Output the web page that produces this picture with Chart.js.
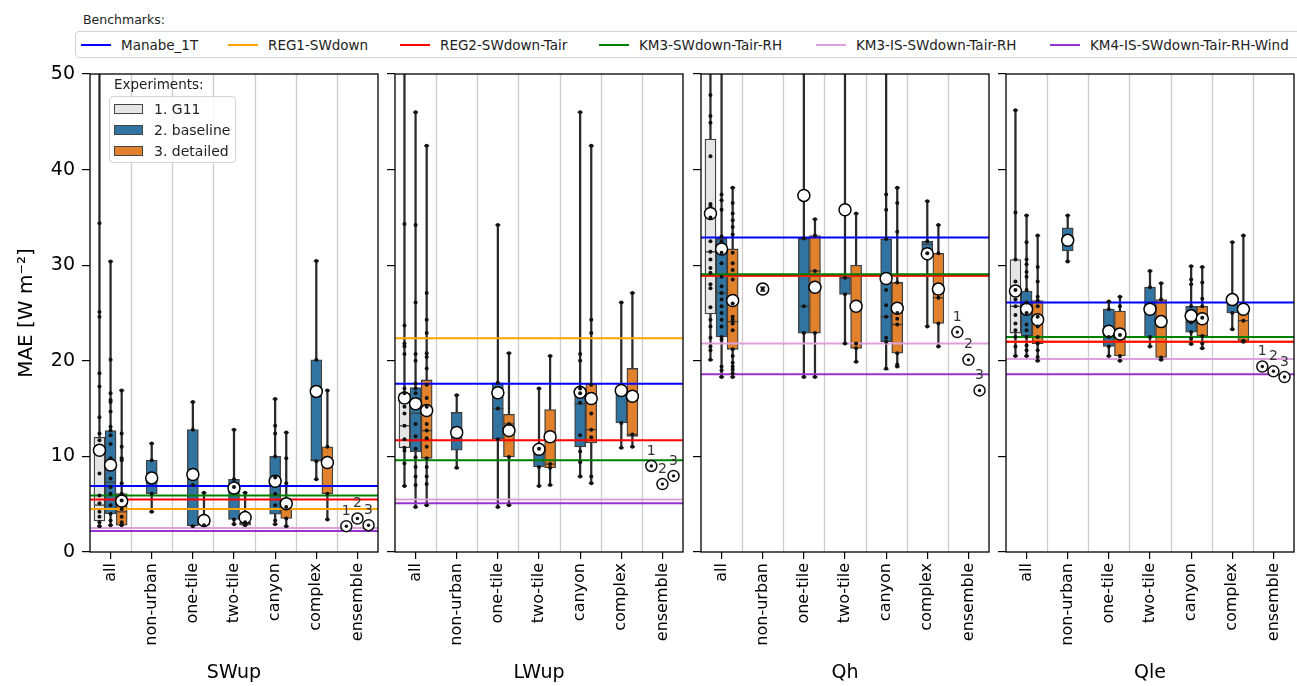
<!DOCTYPE html>
<html><head><meta charset="utf-8">
<script src="https://cdn.jsdelivr.net/npm/chart.js@4.4.1/dist/chart.umd.min.js"></script>
<style>
body{margin:0;background:#fff;width:1297px;height:686px;overflow:hidden;position:relative;font-family:"DejaVu Sans",sans-serif;color:#222}
canvas{position:absolute;top:60px}
#bt{position:absolute;left:83px;top:12px;font-size:12.5px}
#blg{position:absolute;left:75px;top:31px;width:1250px;height:25px;border:1.5px solid #d3d3d3;border-radius:4px;background:#fff}
.bi{position:absolute;top:0;height:25px;display:flex;align-items:center;font-size:13.5px;white-space:nowrap}
.bi i{display:inline-block;width:30px;height:2px;margin-right:10px}
#et{position:absolute;left:114px;top:76px;font-size:13.5px}
#elg{position:absolute;left:109px;top:96px;width:125px;height:65px;border:1.5px solid #d3d3d3;border-radius:4px;background:rgba(255,255,255,0.85)}
.ei{position:absolute;left:4px;height:20px;display:flex;align-items:center;font-size:14px;white-space:nowrap}
.ei i{display:inline-block;width:27px;height:8px;border:1px solid #444;margin-right:11px}
</style></head><body>
<div id="bt">Benchmarks:</div>
<div id="blg"></div>
<canvas id="c0" width="380" height="626" style="left:0px"></canvas>
<canvas id="c1" width="300" height="626" style="left:385px"></canvas>
<canvas id="c2" width="300" height="626" style="left:691px"></canvas>
<canvas id="c3" width="300" height="626" style="left:996px"></canvas>
<div id="et">Experiments:</div>
<div id="elg"></div>
<script>
// ---------- data ----------
const categories = ['all','non-urban','one-tile','two-tile','canyon','complex','ensemble'];
const variables = ['SWup','LWup','Qh','Qle'];
const experiments = ['1. G11','2. baseline','3. detailed'];
const benchmarkNames = ['Manabe_1T','REG1-SWdown','REG2-SWdown-Tair','KM3-SWdown-Tair-RH','KM3-IS-SWdown-Tair-RH','KM4-IS-SWdown-Tair-RH-Wind'];
const yTicks = [0,10,20,30,40,50];

// box stats per category: [min, q1, median, q3, max, mean]
const SWup_bench = [6.9, 4.5, 5.5, 5.9, 2.5, 2.2];
const SWup_G11  = [[2.7,3.25,4.9,12.0,58,10.65],null,null,null,null,null,null];
const SWup_base = [[2.8,4.0,7.3,12.7,30.4,9.1],[4.2,6.1,7.7,9.6,11.35,7.75],[2.7,2.75,7.0,12.8,15.7,8.1],[2.9,3.4,6.8,7.6,12.8,6.7],[2.9,3.95,6.0,10.0,16.0,7.4],[7.6,9.5,9.6,20.1,30.45,16.8],null];
const SWup_det  = [[2.8,2.8,4.2,6.1,16.9,5.34],null,[2.7,2.8,3.0,3.2,6.2,3.3],[2.8,2.8,3.0,3.1,6.2,3.6],[2.7,3.5,4.5,4.6,12.5,5.06],[3.4,6.1,9.4,11.0,16.9,9.36],null];
const SWup_G11_pts  = [[34.4,25.1,24.6,18.7,17.3,14.1,12.4,11.7,8.2,5.9,5.1,4.2,3.7,3.1,2.7],[],[],[],[],[],[]];
const SWup_base_pts = [[30.4,20.1,16.6,15.9,15.7,14.7,13.1,12.7,12.2,11.3,9.8,7.7,6.8,6.1,4.9,4.0,3.3,2.8],[11.35,9.6,6.1,4.2],[15.7,12.8,7.0,2.7],[12.8,7.6,6.8,3.4,2.9],[16.0,13.2,12.4,10.0,7.8,6.1,4.9,3.3,2.9],[30.45,20.1,9.5,7.6],[]];
const SWup_det_pts  = [[16.9,12.4,11.0,9.8,9.6,7.2,6.1,5.4,4.5,3.7,3.1,2.8],[],[6.2,2.8],[6.2,3.1,2.8],[12.5,9.8,7.2,4.7,3.5,2.7],[16.9,11.0,6.1,3.4],[]];
const SWup_ens = [2.7, 3.5, 2.8];

const LWup_bench = [17.6, 22.35, 11.7, 9.6, 5.5, 5.1];
const LWup_G11  = [[6.9,10.9,13.2,16.6,58,16.1],null,null,null,null,null,null];
const LWup_base = [[4.7,10.5,14.5,17.2,46.0,15.5],[8.8,10.65,12.5,14.6,16.4,12.5],[4.7,11.8,15.0,17.7,34.2,16.65],[6.9,8.9,10.2,10.8,17.1,10.75],[7.9,11.0,15.5,17.1,46.0,16.7],[10.9,13.5,17.0,17.2,26.1,16.9],null];
const LWup_det  = [[4.9,9.8,12.7,18.0,42.5,14.8],null,[4.9,9.95,13.4,14.4,20.8,12.7],[7.0,8.8,9.2,14.9,20.5,12.05],[7.2,11.4,12.8,17.6,42.5,16.06],[11.0,12.1,12.3,19.2,27.1,16.3],null];
const LWup_G11_pts  = [[34.3,23.7,21.8,21.5,20.7,17.1,16.6,15.2,14.5,13.2,11.8,10.9,10.6,9.25,6.9],[],[],[],[],[],[]];
const LWup_base_pts = [[46.0,34.2,26.1,20.7,20.0,17.6,17.1,16.6,13.4,12.1,10.8,9.9,8.9,7.9,7.0,4.7],[16.4,8.8],[34.2,17.7,15.0,11.8,4.7],[17.1,10.8,8.9,6.9],[46.0,20.7,20.0,17.1,16.6,15.6,12.2,10.5,9.4,7.9],[26.1,13.5,10.9],[]];
const LWup_det_pts  = [[42.5,27.1,24.3,22.9,20.8,20.4,19.2,17.5,16.1,15.2,13.4,12.7,11.9,11.0,9.8,8.9,7.9,7.1,4.9],[],[20.8,13.4,9.95,4.9],[20.5,9.2,8.8,7.0],[42.5,24.3,22.9,17.5,14.5,12.8,12.0,7.9,7.2],[27.1,12.3,11.0],[]];
const LWup_ens = [9.0, 7.1, 7.96];

const Qh_bench = [32.9, 28.9, 28.9, 29.05, 21.8, 18.6];
const Qh_G11  = [[20.1,24.9,31.4,43.2,58,35.4],null,null,null,null,null,null];
const Qh_base = [[18.3,22.5,27.1,32.8,58,31.7],[27.3,27.4,27.5,27.6,27.7,27.5],[18.3,22.9,25.7,32.8,58,37.3],[21.8,26.95,28.7,28.7,58,35.8],[19.1,22.0,24.6,32.75,58,28.6],[23.6,31.25,32.2,32.5,36.7,31.2],null];
const Qh_det  = [[18.3,21.2,24.1,31.7,38.1,26.3],null,[18.3,22.9,29.4,33.1,34.8,27.7],[19.9,21.3,21.8,30.0,35.4,25.7],[19.4,20.8,23.8,28.2,38.1,25.5],[21.5,23.9,26.6,31.25,34.2,27.5],null];
const Qh_G11_pts  = [[47.8,45.6,44.9,41.4,36.4,36.2,35.0,32.5,31.4,30.6,29.7,29.2,28.0,27.6,25.6,24.3,23.6,22.4,21.5,21.1,20.1],[],[],[],[],[],[]];
const Qh_base_pts = [[37.4,36.8,35.8,33.0,32.5,31.3,30.2,28.8,27.8,27.1,26.4,25.7,25.0,24.3,23.6,22.5,22.2,19.4,19.0,18.3],[27.5],[32.8,25.7,22.9,18.3],[28.7,26.95,21.8],[37.4,35.8,32.75,27.4,25.8,24.6,22.4,22.0,19.2],[36.7,32.5,31.25,23.6],[]];
const Qh_det_pts  = [[38.1,36.5,35.4,34.7,34.0,33.2,31.3,30.2,29.5,28.5,26.0,24.6,24.3,23.9,23.2,21.2,20.5,19.8,19.4,19.1,18.7,18.3],[],[34.8,33.1,29.4,22.9,18.3],[35.4,21.8,21.3,19.9],[38.1,36.5,33.5,28.2,25.0,24.4,23.8,20.8,19.6,19.4],[34.2,31.25,26.6,23.9,21.5],[]];
const Qh_ens = [23.0, 20.1, 16.9];

const Qle_bench = [26.1, 22.0, 22.0, 22.5, 20.2, 18.6];
const Qle_G11  = [[20.5,22.9,25.7,30.6,46.2,27.3],null,null,null,null,null,null];
const Qle_base = [[20.5,22.6,25.5,27.3,35.2,25.4],[30.4,31.5,32.6,33.9,35.2,32.6],[20.5,21.5,22.5,25.4,26.2,23.1],[21.5,22.5,25.2,27.7,29.4,25.4],[21.75,23.0,24.0,25.7,29.9,24.7],[23.3,25.0,26.0,26.3,32.4,26.4],null];
const Qle_det  = [[20.0,21.8,24.0,26.3,33.1,24.3],null,[20.0,20.5,22.7,25.2,26.7,22.8],[20.1,20.35,24.3,26.4,28.1,24.1],[21.3,22.6,24.5,25.7,29.8,24.4],[22.0,22.1,24.2,25.8,33.1,25.4],null];
const Qle_G11_pts  = [[46.2,35.5,30.6,28.3,27.4,26.4,25.7,24.8,23.9,23.2,22.5,21.5,20.5],[],[],[],[],[],[]];
const Qle_base_pts = [[35.2,32.4,30.6,30.1,29.3,28.8,27.4,26.1,25.0,23.8,23.2,22.5,21.6,21.1,20.5],[35.2,30.4],[26.2,25.4,22.5,21.5,20.5],[29.4,27.7,22.5,21.5],[29.9,28.5,28.0,25.7,24.0,23.0,22.3,21.75],[32.4,25.0,23.3],[]];
const Qle_det_pts  = [[33.1,29.8,28.3,26.7,26.3,25.7,24.6,23.6,22.5,21.8,21.1,20.4,20.0],[],[26.7,25.7,22.7,20.5,20.0],[28.1,26.4,20.35,20.1],[29.8,28.2,26.5,25.7,24.5,22.6,21.8,21.3],[33.1,24.2,22.1,22.0],[]];
const Qle_ens = [19.4, 18.9, 18.3];

// ---------- styling ----------
const benchColors = ['#0000ff','#ffa500','#ff0000','#008000','#dda0dd','#9932cc'];
const expColors = ['#e5e5e5','#3274a1','#e1812c'];
const HUE = [-0.27, 0, 0.27];
const X_MIN = -0.5, X_MAX = categories.length - 0.5;
const EDGE = '#3f3f3f';
const FONT = 'DejaVu Sans';
Chart.defaults.font.family = FONT;
Chart.defaults.color = '#000';

const panels = [
  {stats:[SWup_G11,SWup_base,SWup_det], pts:[SWup_G11_pts,SWup_base_pts,SWup_det_pts], ens:SWup_ens, bench:SWup_bench},
  {stats:[LWup_G11,LWup_base,LWup_det], pts:[LWup_G11_pts,LWup_base_pts,LWup_det_pts], ens:LWup_ens, bench:LWup_bench},
  {stats:[Qh_G11,Qh_base,Qh_det], pts:[Qh_G11_pts,Qh_base_pts,Qh_det_pts], ens:Qh_ens, bench:Qh_bench},
  {stats:[Qle_G11,Qle_base,Qle_det], pts:[Qle_G11_pts,Qle_base_pts,Qle_det_pts], ens:Qle_ens, bench:Qle_bench},
];

// ---------- legends (HTML) ----------
const blg = document.getElementById('blg');
const bLeft = [5,152,324,523,740,974];
benchmarkNames.forEach((n,i)=>{
  const d = document.createElement('div'); d.className='bi'; d.style.left=bLeft[i]+'px';
  d.innerHTML = '<i style="background:'+benchColors[i]+'"></i>'+n; blg.appendChild(d);
});
const elg = document.getElementById('elg');
experiments.forEach((n,i)=>{
  const d = document.createElement('div'); d.className='ei'; d.style.top=(2+i*21)+'px';
  d.innerHTML = '<i style="background:'+expColors[i]+'"></i>'+n; elg.appendChild(d);
});

// ---------- plugins ----------
const framePlugin = {
  id:'frame',
  beforeDatasetsDraw(chart){
    const {ctx, chartArea:a, scales:{x}} = chart;
    ctx.save(); ctx.strokeStyle='#cccccc'; ctx.lineWidth=1.3;
    for(let i=0;i<categories.length-1;i++){
      const px = Math.round(x.getPixelForValue(i+0.5))+0.5;
      ctx.beginPath(); ctx.moveTo(px,a.top); ctx.lineTo(px,a.bottom); ctx.stroke();
    }
    ctx.restore();
  },
  afterDatasetsDraw(chart){
    const {ctx, chartArea:a, scales:{x,y}} = chart;
    const p = chart.options.plugins.frame;
    ctx.save();
    ctx.fillStyle='#333'; ctx.font='14px "'+FONT+'"'; ctx.textAlign='center'; ctx.textBaseline='middle';
    p.ens.forEach((v,e)=>{
      ctx.fillText(String(e+1), x.getPixelForValue(categories.length-1+HUE[e]), y.getPixelForValue(v)-15);
    });
    ctx.strokeStyle='#000'; ctx.lineWidth=1.3;
    ctx.strokeRect(a.left, a.top, a.right-a.left, a.bottom-a.top);
    ctx.restore();
  }
};

function buildDatasets(p){
  const ds = [];
  const whisk=[], meds=[], caps=[], means=[], dots=[];
  p.stats.forEach((arr,e)=>{
    const boxes=[];
    arr.forEach((s,c)=>{
      if(!s) return;
      const x = c + HUE[e];
      whisk.push({x, y:[s[0], s[4]]});
      boxes.push({x, y:[s[1], s[3]]});
      meds.push({x, y:s[2]});
      caps.push({x, y:s[0]}); caps.push({x, y:s[4]});
      means.push({x, y:s[5]});
    });
    ds.push({type:'bar', data:boxes, grouped:false, categoryPercentage:1, barPercentage:1, maxBarThickness:11,
      backgroundColor:expColors[e], borderColor:EDGE, borderWidth:1.3, borderSkipped:false, order:9});
    p.pts[e].forEach((list,c)=>list.forEach(v=>dots.push({x:c+HUE[e], y:v})));
  });
  ds.push({type:'bar', data:whisk, grouped:false, categoryPercentage:1, barPercentage:1, maxBarThickness:1.6,
    backgroundColor:'#2a2a2a', borderWidth:0, order:10});
  ds.push({type:'scatter', data:meds, pointStyle:'line', pointRadius:5.5, borderColor:EDGE, borderWidth:1.3, order:8});
  p.bench.forEach((v,i)=>{
    ds.push({type:'line', data:[{x:X_MIN,y:v},{x:X_MAX,y:v}], borderColor:benchColors[i], borderWidth:2, pointRadius:0, order:7-i*0.1});
  });
  ds.push({type:'scatter', data:means, pointRadius:6, pointBackgroundColor:'#fff', pointBorderColor:'#000', pointBorderWidth:1.5, order:3});
  ds.push({type:'scatter', data:caps, pointStyle:'line', pointRadius:2.5, borderColor:'#222', borderWidth:1.5, order:2});
  ds.push({type:'scatter', data:dots, pointRadius:2, pointBackgroundColor:'#111', pointBorderWidth:0, order:1});
  const ens = p.ens.map((v,e)=>({x:categories.length-1+HUE[e], y:v}));
  ds.push({type:'scatter', data:ens, pointRadius:5.5, pointBackgroundColor:'#fff', pointBorderColor:'#111', pointBorderWidth:1.5, order:0.5});
  ds.push({type:'scatter', data:ens, pointRadius:1.7, pointBackgroundColor:'#111', pointBorderWidth:0, order:0.4});
  return ds;
}

panels.forEach((p,i)=>{
  const first = i===0;
  new Chart(document.getElementById('c'+i), {
    type:'bar',
    data:{datasets:buildDatasets(p)},
    options:{
      responsive:false, animation:false, devicePixelRatio:1,
      layout:{autoPadding:false, padding:{top:14,right:2,left:0,bottom:0}},
      plugins:{legend:{display:false}, tooltip:{enabled:false}, frame:{ens:p.ens}},
      scales:{
        x:{type:'linear', min:X_MIN, max:X_MAX, offset:false,
          afterBuildTicks:s=>{ s.ticks = categories.map((_,k)=>({value:k})); },
          afterFit:s=>{ s.height = 134; s.paddingLeft = 0; s.paddingRight = 0; },
          border:{display:false},
          grid:{offset:false, drawOnChartArea:false, drawTicks:true, tickLength:7, color:'#000', lineWidth:1.2},
          ticks:{autoSkip:false, minRotation:90, maxRotation:90, padding:4, font:{size:16}, color:'#000',
            callback:v=>categories[v]},
          title:{display:true, text:variables[i], font:{size:19}, color:'#000', padding:{top:0,bottom:2}}
        },
        y:{type:'linear', min:0, max:50,
          afterBuildTicks:s=>{ s.ticks = yTicks.map(v=>({value:v})); },
          afterFit:s=>{ s.width = first ? 90 : 10; s.paddingTop = 0; s.paddingBottom = 0; },
          border:{display:false},
          grid:{drawOnChartArea:false, drawTicks:true, tickLength:8, color:'#000', lineWidth:1.2},
          ticks:{display:first, padding:7, font:{size:19}, color:'#000'},
          title:{display:first, text:'MAE [W m⁻²]', font:{size:20}, color:'#000', padding:{top:15,bottom:0}}
        }
      }
    },
    plugins:[framePlugin]
  });
});
</script>
</body></html>
